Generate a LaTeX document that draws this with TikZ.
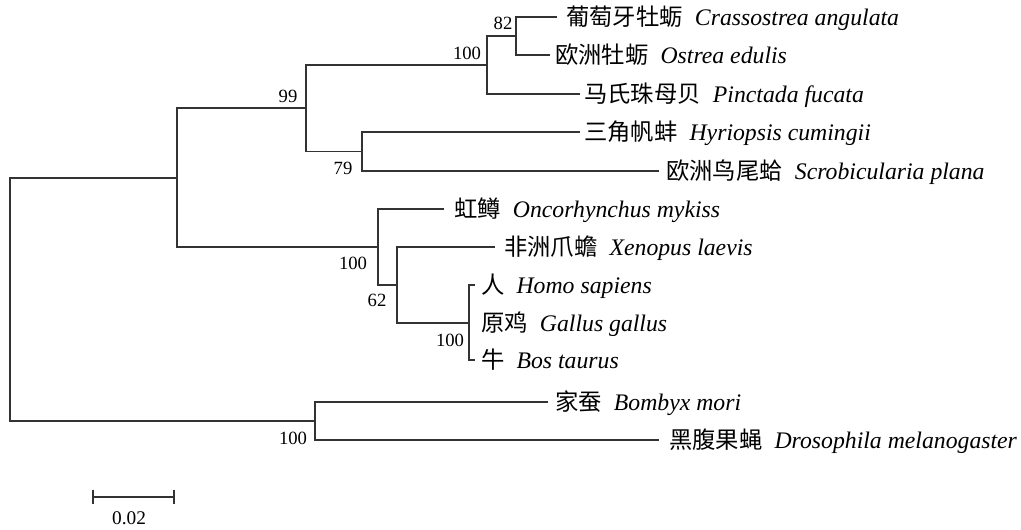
\documentclass[tikz,border=0pt]{standalone}
\usepackage{fontspec}
\setmainfont{Liberation Serif}
\newfontfamily\cjk{Noto Sans CJK SC}
\definecolor{treeline}{HTML}{333333}
\newcommand{\taxlabel}[2]{{\cjk #1}\hspace{9pt}{\fontsize{17.8}{20}\selectfont\textit{#2}}}
\begin{document}
\begin{tikzpicture}[x=0.75pt,y=-0.75pt,
  branch/.style={draw=treeline,line width=1.1pt},
  leaf/.style={anchor=base west,inner sep=0pt,font=\fontsize{17.5}{20}\selectfont},
  boot/.style={anchor=center,inner sep=0pt,font=\fontsize{14}{16}\selectfont},
  scalelbl/.style={anchor=center,inner sep=0pt,font=\fontsize{14.5}{16}\selectfont}]
\useasboundingbox (0,0) rectangle (1021,529);
% leaf line ends
\coordinate (e1) at (557,17);
\coordinate (e2) at (550,55);
\coordinate (e3) at (580,94);
\coordinate (e4) at (580,132);
\coordinate (e5) at (659,171);
\coordinate (e6) at (444,209);
\coordinate (e7) at (495,247);
\coordinate (e8) at (475,285);
\coordinate (e9) at (469,323);
\coordinate (e10) at (475,360);
\coordinate (e11) at (548,402);
\coordinate (e12) at (659,440);
% internal nodes
\coordinate (n82) at (516,36);
\coordinate (n100a) at (487,65);
\coordinate (n79) at (362,151.5);
\coordinate (n99) at (306,108);
\coordinate (nmam) at (469,323);
\coordinate (n62) at (397,285);
\coordinate (nvert) at (378,247);
\coordinate (ntop) at (177,178);
\coordinate (nbot) at (315,421);
\coordinate (root) at (10,300);
% branches
\draw[branch] (e1) -| (n82) |- (e2);
\draw[branch] (n82) -| (n100a) |- (e3);
\draw[branch] (e4) -| (n79) |- (e5);
\draw[branch] (n100a) -| (n99) |- (n79);
\draw[branch] (e8) -| (nmam) |- (e10);
\draw[branch] (e7) -| (n62) |- (nmam);
\draw[branch] (e6) -| (nvert) |- (n62);
\draw[branch] (n99) -| (ntop) |- (nvert);
\draw[branch] (e11) -| (nbot) |- (e12);
\draw[branch] (ntop) -| (root) |- (nbot);
% leaf labels
\node[leaf] (t1) at (566,25.5) {\taxlabel{葡萄牙牡蛎}{Crassostrea angulata}};
\node[leaf] (t2) at (555,63.5) {\taxlabel{欧洲牡蛎}{Ostrea edulis}};
\node[leaf] (t3) at (584,102.5) {\taxlabel{马氏珠母贝}{Pinctada fucata}};
\node[leaf] (t4) at (584,140.5) {\taxlabel{三角帆蚌}{Hyriopsis cumingii}};
\node[leaf] (t5) at (666,179.5) {\taxlabel{欧洲鸟尾蛤}{Scrobicularia plana}};
\node[leaf] (t6) at (454,217.5) {\taxlabel{虹鳟}{Oncorhynchus mykiss}};
\node[leaf] (t7) at (504,255.5) {\taxlabel{非洲爪蟾}{Xenopus laevis}};
\node[leaf] (t8) at (481,293.5) {\taxlabel{人}{Homo sapiens}};
\node[leaf] (t9) at (481,331.5) {\taxlabel{原鸡}{Gallus gallus}};
\node[leaf] (t10) at (481,368.5) {\taxlabel{牛}{Bos taurus}};
\node[leaf] (t11) at (555,410.5) {\taxlabel{家蚕}{Bombyx mori}};
\node[leaf] (t12) at (669,448.5) {\taxlabel{黑腹果蝇}{Drosophila melanogaster}};
% bootstrap values
\node[boot] (b82) at (503,23) {82};
\node[boot] (b100a) at (467,53) {100};
\node[boot] (b99) at (288,96) {99};
\node[boot] (b79) at (343,168) {79};
\node[boot] (b100v) at (353,263) {100};
\node[boot] (b62) at (377,300) {62};
\node[boot] (b100m) at (450,340) {100};
\node[boot] (b100b) at (293,438) {100};
% scale bar
\coordinate (s1) at (93,497);
\coordinate (s2) at (174,497);
\draw[branch] (s1) -- (s2);
\draw[branch] ([yshift=5.6pt]s1) -- ([yshift=-5.6pt]s1);
\draw[branch] ([yshift=5.6pt]s2) -- ([yshift=-5.6pt]s2);
\node[scalelbl] (sl) at (129,518) {0.02};
\end{tikzpicture}
\end{document}
